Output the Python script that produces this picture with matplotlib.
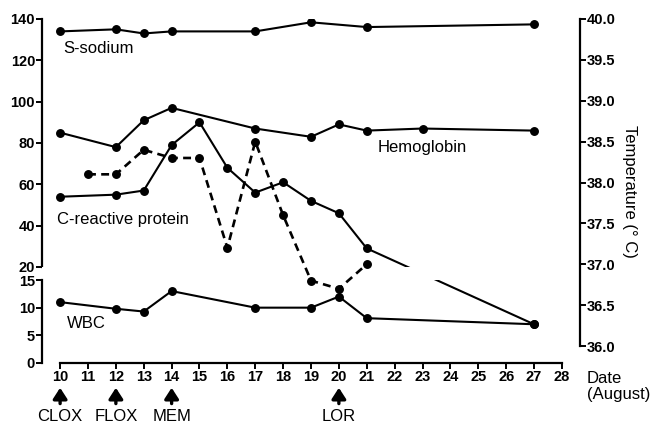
import matplotlib

matplotlib.use("Agg")

import matplotlib.pyplot as plt
import numpy as np
from matplotlib.lines import Line2D

plt.rcParams["font.family"] = ["Liberation Sans", "DejaVu Sans"]

# data
sodium_days = [10, 12, 13, 14, 17, 19, 21, 27]
sodium = [134, 135, 133, 134, 134, 138.4, 136.1, 137.4]

hb_days = [10, 12, 13, 14, 17, 19, 20, 21, 23, 27]
hemoglobin = [85, 78, 91, 97, 87, 83, 89, 86, 87, 86]

crp_days = [10, 12, 13, 14, 15, 16, 17, 18, 19, 20, 21, 27]
crp = [54, 55, 57, 79, 90, 68, 56, 61, 52, 46, 29, 7]

wbc_days = [10, 12, 13, 14, 17, 19, 20, 21, 27]
wbc = [11, 9.8, 9.3, 13, 10, 10, 12, 8.1, 7]

temp_days = [11, 12, 13, 14, 15, 16, 17, 18, 19, 20, 21]
temperature = [38.1, 38.1, 38.4, 38.3, 38.3, 37.2, 38.5, 37.6, 36.8, 36.7, 37.0]

drug_days = [10, 12, 14, 20]
drug_names = ["CLOX", "FLOX", "MEM", "LOR"]

left_ticks = [0, 5, 10, 15, 20, 40, 60, 80, 100, 120, 140]
right_ticks = [36.0, 36.5, 37.0, 37.5, 38.0, 38.5, 39.0, 39.5, 40.0]

# broken left axis: 0-15 low segment, 15-20 gap, 20-140 high segment
BREAK_VALS = [-1000, 0, 15, 20, 140, 2000]
BREAK_POS = [-1000 * 5.53, 0, 83, 96, 344, 344 + 1860 * 2.065]


def fwd(v):
    return np.interp(v, BREAK_VALS, BREAK_POS)


def inv(p):
    return np.interp(p, BREAK_POS, BREAK_VALS)


fig = plt.figure(figsize=(6.57, 4.26), dpi=100)
ax = fig.add_axes([42 / 657, 63 / 426, 538 / 657, 344 / 426])
ax.set_yscale("function", functions=(fwd, inv))
ax.set_ylim(0, 140)
ax.set_xlim(9.35, 28.65)

line_kw = dict(color="black", lw=1.5, marker="o", ms=5.4, zorder=2)
ax.plot(sodium_days, sodium, **line_kw)
ax.plot(hb_days, hemoglobin, **line_kw)
ax.plot(crp_days, crp, **line_kw)
ax.plot(wbc_days, wbc, **line_kw)

# white gap for the axis break
ax.axhspan(15, 20, color="white", zorder=3, lw=0)

for side in ["top", "right"]:
    ax.spines[side].set_visible(False)
ax.spines["left"].set_bounds(20, 140)
ax.spines["bottom"].set_bounds(10, 28)
for side in ["left", "bottom"]:
    ax.spines[side].set_linewidth(1.6)
ax.add_line(Line2D([0, 0], [0, 15], transform=ax.get_yaxis_transform(),
                   color="black", lw=1.6, clip_on=False, zorder=4))

ax.set_yticks(left_ticks)
ax.set_yticks([], minor=True)
ax.set_xticks(range(10, 29))
ax.tick_params(direction="out", length=4, width=1.4, labelsize=10.5, pad=1)
for lab in ax.get_xticklabels() + ax.get_yticklabels():
    lab.set_fontweight("bold")

# temperature on the right axis
ax2 = ax.twinx()
ax2.set_ylim(36 - 17 / 81.8, 40)
ax2.plot(temp_days, temperature, color="black", lw=1.9, ls=(0, (3, 2)),
         marker="o", ms=5.4)
for side in ["top", "left", "bottom"]:
    ax2.spines[side].set_visible(False)
ax2.spines["right"].set_bounds(36, 40)
ax2.spines["right"].set_linewidth(1.6)
ax2.set_yticks(right_ticks)
ax2.set_yticklabels([f"{t:.1f}" for t in right_ticks], fontweight="bold")
ax2.tick_params(direction="out", length=4, width=1.4, labelsize=10.5, pad=1)
ax2.set_ylabel("Temperature (\u00b0 C)", rotation=270, fontsize=12, labelpad=15)

# series labels
ax.text(10.1, 125.5, "S-sodium", fontsize=12, ha="left", va="center")
ax.text(21.4, 78, "Hemoglobin", fontsize=12, ha="left", va="center")
ax.text(9.9, 43, "C-reactive protein", fontsize=12, ha="left", va="center")
ax.text(10.25, 7.2, "WBC", fontsize=12, ha="left", va="center")

# drug start arrows
xt = ax.get_xaxis_transform()
for day, name in zip(drug_days, drug_names):
    ax.annotate("", xy=(day, -0.072), xytext=(day, -0.118), xycoords=xt, textcoords=xt,
                arrowprops=dict(arrowstyle="-|>,head_length=0.65,head_width=0.42",
                                color="black", lw=2.4, shrinkA=0, shrinkB=0),
                annotation_clip=False)
    ax.text(day, -0.155, name, transform=xt, ha="center", va="center", fontsize=12)

ax.text(1.013, -0.024, "Date\n(August)", transform=ax.transAxes, ha="left", va="top",
        fontsize=12, linespacing=1.05)

fig.savefig("out.png", dpi=100)
